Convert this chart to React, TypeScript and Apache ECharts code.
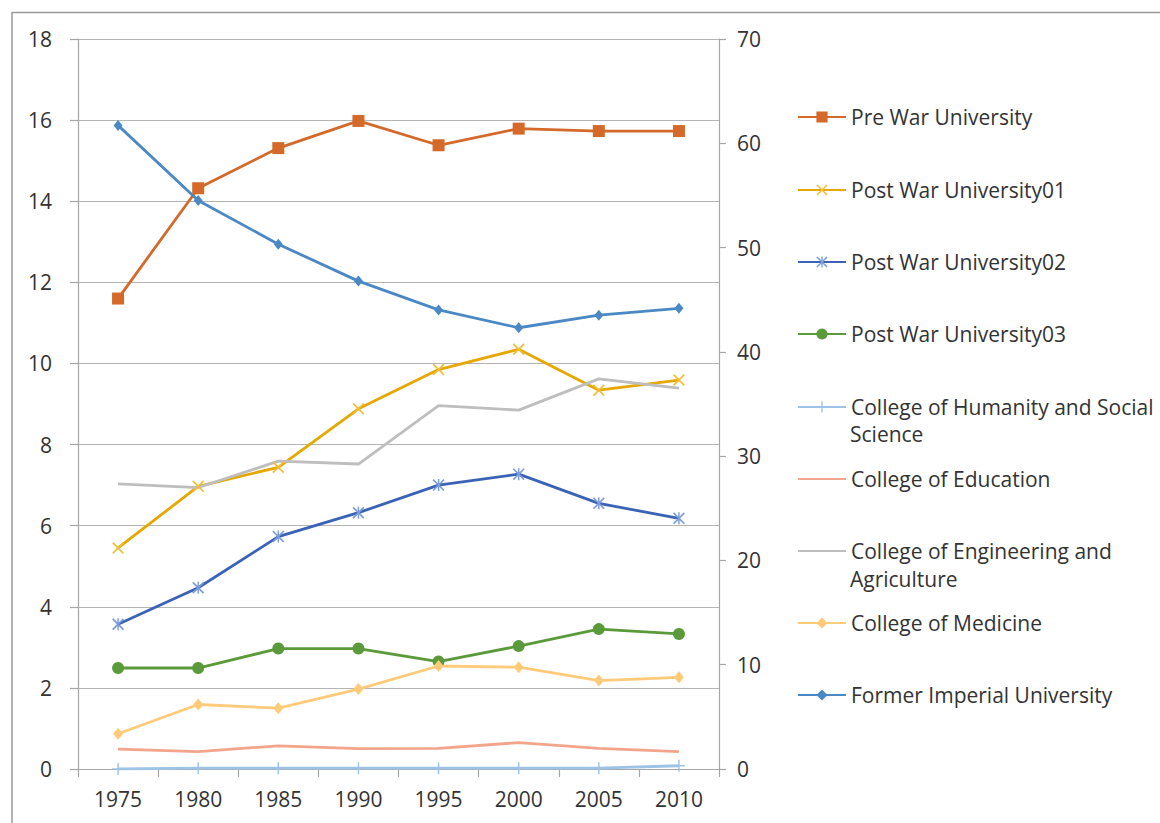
import React, { useEffect, useRef } from "react";
import * as echarts from "echarts";

const years = ["1975", "1980", "1985", "1990", "1995", "2000", "2005", "2010"];
const preWar = [11.6, 14.32, 15.31, 15.98, 15.38, 15.79, 15.73, 15.73];
const postWar01 = [5.45, 6.97, 7.44, 8.88, 9.85, 10.35, 9.34, 9.59];
const postWar02 = [3.57, 4.47, 5.73, 6.32, 7.0, 7.27, 6.55, 6.18];
const postWar03 = [2.49, 2.49, 2.97, 2.97, 2.65, 3.03, 3.45, 3.33];
const humanity = [0.0, 0.02, 0.02, 0.02, 0.02, 0.02, 0.02, 0.08];
const education = [0.49, 0.43, 0.57, 0.5, 0.51, 0.65, 0.51, 0.43];
const engineering = [7.03, 6.94, 7.59, 7.52, 8.96, 8.85, 9.62, 9.39];
const medicine = [0.87, 1.59, 1.5, 1.97, 2.54, 2.51, 2.18, 2.26];
const imperial = [15.87, 14.02, 12.94, 12.03, 11.32, 10.88, 11.19, 11.36];

const leftAxis = { min: 0, max: 18, interval: 2 };
const rightAxis = { min: 0, max: 70, interval: 10 };

const XPATH = "path://M0,1 L1,0 L5,4 L9,0 L10,1 L6,5 L10,9 L9,10 L5,6 L1,10 L0,9 L4,5 Z";
const STARPATH =
  "path://M0,1 L1,0 L5,4 L9,0 L10,1 L6,5 L10,9 L9,10 L5,6 L1,10 L0,9 L4,5 Z M4.4,0 L5.6,0 L5.6,10 L4.4,10 Z";
const PLUSPATH =
  "path://M4.4,0 L5.6,0 L5.6,4.4 L10,4.4 L10,5.6 L5.6,5.6 L5.6,10 L4.4,10 L4.4,5.6 L0,5.6 L0,4.4 L4.4,4.4 Z";

const FONT = "Open Sans";
const TEXT = "#333333";

type S = {
  name: string;
  label: string;
  data: number[];
  color: string;
  mcolor: string;
  symbol: string;
  size: number | number[];
  legendY: number;
};

const seriesDefs: S[] = [
  { name: "Pre War University", label: "Pre War University", data: preWar, color: "#D4692A", mcolor: "#D4692A", symbol: "rect", size: 12, legendY: 117 },
  { name: "Post War University01", label: "Post War University01", data: postWar01, color: "#E5A800", mcolor: "#F2BE3A", symbol: XPATH, size: 12, legendY: 190 },
  { name: "Post War University02", label: "Post War University02", data: postWar02, color: "#3A62B5", mcolor: "#7D9CDB", symbol: STARPATH, size: 12, legendY: 262 },
  { name: "Post War University03", label: "Post War University03", data: postWar03, color: "#5B9A3A", mcolor: "#5B9A3A", symbol: "circle", size: 12, legendY: 334 },
  { name: "College of Humanity and Social Science", label: "College of Humanity and Social", data: humanity, color: "#9DC3E6", mcolor: "#9DC3E6", symbol: PLUSPATH, size: 12, legendY: 407 },
  { name: "College of Education", label: "College of Education", data: education, color: "#F2A58A", mcolor: "#F2A58A", symbol: "none", size: 0, legendY: 479 },
  { name: "College of Engineering and Agriculture", label: "College of Engineering and", data: engineering, color: "#BEBEBE", mcolor: "#BEBEBE", symbol: "none", size: 0, legendY: 551 },
  { name: "College of Medicine", label: "College of Medicine", data: medicine, color: "#FFCB78", mcolor: "#FFCB78", symbol: "diamond", size: [10, 12], legendY: 623 },
  { name: "Former Imperial University", label: "Former Imperial University", data: imperial, color: "#4A89C5", mcolor: "#4A89C5", symbol: "diamond", size: [9, 11], legendY: 695 },
];

const secondLines = [
  { text: "Science", y: 434 },
  { text: "Agriculture", y: 579 },
];

export default function App() {
  const ref = useRef<HTMLDivElement>(null);
  useEffect(() => {
    if (!ref.current) return;
    const chart = echarts.init(ref.current, null, { renderer: "svg" });
    const labelMap: Record<string, string> = {};
    seriesDefs.forEach((s) => (labelMap[s.name] = s.label));

    const option: any = {
      animation: false,
      backgroundColor: "#ffffff",
      textStyle: { fontFamily: FONT },
      grid: { left: 78, top: 39, width: 641, height: 730, containLabel: false },
      xAxis: {
        type: "category",
        data: years,
        boundaryGap: true,
        axisLine: { lineStyle: { color: "#A6A6A6", width: 1.2 } },
        axisTick: { show: true, length: 8, lineStyle: { color: "#A6A6A6", width: 1.2 } },
        axisLabel: { color: TEXT, fontSize: 21, fontFamily: FONT, margin: 19 },
        splitLine: { show: false },
      },
      yAxis: [
        {
          type: "value",
          position: "left",
          min: leftAxis.min,
          max: leftAxis.max,
          interval: leftAxis.interval,
          axisLine: { show: true, lineStyle: { color: "#A6A6A6", width: 1.2 } },
          axisTick: { show: true, length: 8, lineStyle: { color: "#A6A6A6", width: 1.2 } },
          axisLabel: { color: TEXT, fontSize: 21, fontFamily: FONT, margin: 26 },
          splitLine: { show: true, lineStyle: { color: "#B4B4B4", width: 1.2 } },
        },
        {
          type: "value",
          position: "right",
          min: rightAxis.min,
          max: rightAxis.max,
          interval: rightAxis.interval,
          axisLine: { show: true, lineStyle: { color: "#A6A6A6", width: 1.2 } },
          axisTick: { show: true, length: 7, lineStyle: { color: "#A6A6A6", width: 1.2 } },
          axisLabel: { color: TEXT, fontSize: 21, fontFamily: FONT, margin: 18 },
          splitLine: { show: false },
        },
      ],
      legend: seriesDefs.map((s) => {
        const l: any = {
          data: [s.name],
          left: 797,
          top: s.legendY - 12,
          orient: "vertical",
          padding: 0,
          itemWidth: 48,
          itemHeight: 14,
          itemGap: 5,
          selectedMode: false,
          formatter: (n: string) => labelMap[n] || n,
          textStyle: { color: TEXT, fontSize: 21, fontFamily: FONT, lineHeight: 24 },
        };
        if (s.symbol === "none") l.itemStyle = { opacity: 0 };
        return l;
      }),
      graphic: [
        { type: "line", shape: { x1: 12, y1: 12.5, x2: 1160, y2: 12.5 }, style: { stroke: "#9A9A9A", lineWidth: 1.5 } },
        { type: "line", shape: { x1: 12, y1: 12, x2: 12, y2: 823 }, style: { stroke: "#9A9A9A", lineWidth: 1.5 } },
        ...secondLines.map((l) => ({
          type: "text",
          left: 850,
          top: l.y - 12,
          style: { text: l.text, fill: TEXT, font: `21px "${FONT}"`, lineHeight: 24 },
        })),
      ],
      series: seriesDefs.map((s) => ({
        name: s.name,
        type: "line",
        data: s.data,
        yAxisIndex: 0,
        symbol: s.symbol,
        symbolSize: s.size,
        showSymbol: s.symbol !== "none",
        lineStyle: { color: s.color, width: 2.8 },
        itemStyle: { color: s.mcolor },
        emphasis: { disabled: true },
      })),
    };
    chart.setOption(option);
    return () => chart.dispose();
  }, []);
  return (
    <div
      ref={ref}
      style={{ position: "fixed", left: 0, top: 0, width: 1160, height: 823 }}
    />
  );
}
